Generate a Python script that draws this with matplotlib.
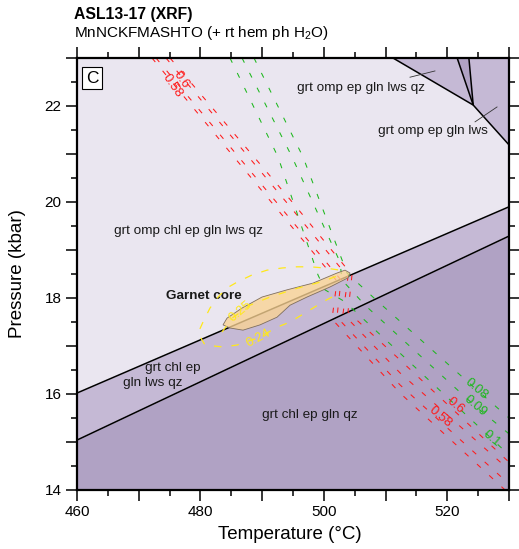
import matplotlib
matplotlib.use("Agg")
import matplotlib.pyplot as plt
from matplotlib.ticker import MultipleLocator, FuncFormatter

plt.rcParams["font.family"] = ["Liberation Sans", "DejaVu Sans"]
plt.rcParams["mathtext.fontset"] = "custom"
plt.rcParams["mathtext.rm"] = "Liberation Sans"

# --- field boundaries (T in degC, P in kbar) ---
BOUND_UPPER_T = [460, 530]
BOUND_UPPER_P = [16.02, 19.90]
BOUND_LOWER_T = [460, 530]
BOUND_LOWER_P = [15.04, 19.29]

REACT_A_T = [511.2, 524.2, 530.0]
REACT_A_P = [23.0, 22.02, 21.19]
REACT_B_T = [521.6, 524.2]
REACT_B_P = [23.0, 22.02]
REACT_C_T = [523.5, 524.2]
REACT_C_P = [23.0, 22.02]

# --- red isopleths (two traces per value) ---
RED_060A_T = [475.07, 495.00, 504.56, 503.91, 512.34, 530.0]
RED_060A_P = [23.0, 19.98, 18.48, 17.71, 16.71, 14.58]
RED_060B_T = [474.42, 494.03, 503.91, 503.10, 512.34, 530.0]
RED_060B_P = [23.0, 19.98, 18.44, 17.67, 16.44, 14.42]
RED_058A_T = [472.80, 492.41, 502.78, 502.13, 512.34, 530.0]
RED_058A_P = [23.0, 19.98, 18.375, 17.60, 16.19, 14.125]
RED_058B_T = [472.15, 491.60, 502.13, 501.32, 512.34, 529.36]
RED_058B_P = [23.0, 19.98, 18.35, 17.56, 16.02, 14.0]

# --- green isopleths ---
GRN_008_T = [488.68, 496.62, 503.75, 508.29, 524.66, 530.0]
GRN_008_P = [23.0, 20.94, 18.52, 17.98, 16.10, 15.50]
GRN_009_T = [486.74, 494.84, 502.62, 502.94, 506.67, 524.50, 530.0]
GRN_009_P = [23.0, 20.94, 18.75, 18.375, 17.85, 15.75, 15.17]
GRN_010_T = [484.79, 492.57, 499.05, 500.19, 503.43, 527.09, 530.0]
GRN_010_P = [23.0, 20.94, 18.48, 18.17, 17.92, 15.08, 14.73]

# --- yellow isopleths ---
YEL_024_T = [501.32, 499.86, 498.24, 496.46, 494.52, 492.57, 489.33, 485.93, 483.66,
             480.74, 479.61, 480.42, 481.55, 482.85, 484.31, 485.93, 488.36, 490.79,
             493.22, 495.65, 497.76, 500.19, 502.62]
YEL_024_P = [18.02, 17.92, 17.79, 17.65, 17.50, 17.40, 17.17, 17.02, 16.98,
             17.02, 17.27, 17.50, 17.79, 18.02, 18.21, 18.33, 18.48, 18.58,
             18.625, 18.65, 18.65, 18.625, 18.58]
YEL_025_T = [483.5, 485.12, 488.03, 491.27, 495.33, 499.38, 503.1]
YEL_025_P = [17.29, 17.58, 17.85, 18.02, 18.19, 18.33, 18.50]

# --- garnet core P-T field ---
CORE_T = [483.66, 484.31, 486.74, 489.98, 494.03, 498.24, 502.13, 503.43, 504.24,
          503.91, 501.0, 497.27, 494.52, 492.41, 489.65, 486.90, 484.79]
CORE_P = [17.44, 17.58, 17.79, 18.02, 18.17, 18.31, 18.52, 18.58, 18.52,
          18.42, 18.23, 18.02, 17.85, 17.60, 17.44, 17.33, 17.375]

FIELD_LIGHT = "#EAE6F0"
FIELD_MID = "#C5B9D5"
FIELD_DARK = "#B0A2C4"
RED = "#FF1A1A"
GREEN = "#1DB81D"
YELLOW = "#FFE81A"

fig = plt.figure(figsize=(5.19, 5.49), dpi=100)
ax = fig.add_axes([77 / 519, 1 - 490 / 549, 432 / 519, 432 / 549])
ax.set_facecolor(FIELD_LIGHT)
ax.set_xlim(460, 530)
ax.set_ylim(14, 23)

# fields
ax.fill_between(BOUND_LOWER_T, 14, BOUND_LOWER_P, color=FIELD_DARK, lw=0)
ax.fill_between(BOUND_UPPER_T, BOUND_LOWER_P, BOUND_UPPER_P, color=FIELD_MID, lw=0)
ax.fill([REACT_A_T[0], REACT_A_T[1], REACT_B_T[0]], [REACT_A_P[0], REACT_A_P[1], REACT_B_P[0]],
        color=FIELD_MID, lw=0)
ax.fill([REACT_B_T[0], REACT_A_T[1], REACT_C_T[0]], [REACT_B_P[0], REACT_A_P[1], REACT_C_P[0]],
        color=FIELD_DARK, lw=0)
ax.fill([REACT_C_T[0], REACT_A_T[1], REACT_A_T[2], 530], [REACT_C_P[0], REACT_A_P[1], REACT_A_P[2], 23],
        color=FIELD_MID, lw=0)

for t, p in [(BOUND_UPPER_T, BOUND_UPPER_P), (BOUND_LOWER_T, BOUND_LOWER_P),
             (REACT_A_T, REACT_A_P), (REACT_B_T, REACT_B_P), (REACT_C_T, REACT_C_P)]:
    ax.plot(t, p, color="black", lw=1.1, solid_capstyle="butt")

# isopleths
dash = (0, (5, 11))
for t, p in [(RED_060A_T, RED_060A_P), (RED_060B_T, RED_060B_P),
             (RED_058A_T, RED_058A_P), (RED_058B_T, RED_058B_P)]:
    ax.plot(t, p, color=RED, lw=0.75, ls=dash)
for t, p in [(GRN_008_T, GRN_008_P), (GRN_009_T, GRN_009_P), (GRN_010_T, GRN_010_P)]:
    ax.plot(t, p, color=GREEN, lw=0.75, ls=dash)

# garnet core field, semi-transparent over the boundary line
ax.fill(CORE_T, CORE_P, facecolor="#FAD393", alpha=0.78, edgecolor="none", zorder=3)
ax.fill(CORE_T, CORE_P, facecolor="none", edgecolor="#7E6E5E", lw=0.6, zorder=3)

for t, p in [(YEL_024_T, YEL_024_P), (YEL_025_T, YEL_025_P)]:
    ax.plot(t, p, color=YELLOW, lw=0.9, ls=(0, (6, 8)), zorder=4)

# isopleth labels
lab = dict(fontsize=9.5, ha="center", va="center", zorder=5)
ax.text(476.85, 22.54, "0.6", color=RED, rotation=-55, **lab)
ax.text(475.39, 22.42, "0.58", color=RED, rotation=-55, **lab)
ax.text(521.25, 15.75, "0.6", color=RED, rotation=-40, **lab)
ax.text(518.82, 15.52, "0.58", color=RED, rotation=-40, **lab)
ax.text(524.66, 16.10, "0.08", color=GREEN, rotation=-40, **lab)
ax.text(524.50, 15.75, "0.09", color=GREEN, rotation=-40, **lab)
ax.text(527.09, 15.08, "0.1", color=GREEN, rotation=-40, **lab)
ax.text(486.41, 17.73, "0.25", color=YELLOW, rotation=40, **lab)
ax.text(489.33, 17.17, "0.24", color=YELLOW, rotation=28, **lab)

# field labels
fl = dict(fontsize=9.7, color="#1a1a1a", ha="left", va="center")
ax.text(495.65, 22.38, "grt omp ep gln lws qz", **fl)
ax.text(508.78, 21.48, "grt omp ep gln lws", **fl)
ax.text(466.0, 19.40, "grt omp chl ep gln lws qz", **fl)
ax.text(474.42, 18.04, "Garnet core", fontweight="bold", **fl)
ax.text(471.0, 16.54, "grt chl ep", **fl)
ax.text(467.45, 16.23, "gln lws qz", **fl)
ax.text(489.98, 15.56, "grt chl ep gln qz", **fl)
ax.plot([513.96, 518.0], [22.60, 22.73], color="#333333", lw=0.6)
ax.plot([524.5, 528.06], [21.67, 21.98], color="#333333", lw=0.6)

ax.text(462.43, 22.58, "C", fontsize=12.5, ha="center", va="center",
        bbox=dict(boxstyle="square,pad=0.22", fc="white", ec="black", lw=0.8))

# axes styling
ax.xaxis.set_major_locator(MultipleLocator(10))
ax.xaxis.set_minor_locator(MultipleLocator(5))
ax.yaxis.set_major_locator(MultipleLocator(1))
ax.yaxis.set_minor_locator(MultipleLocator(0.5))
ax.xaxis.set_major_formatter(FuncFormatter(lambda v, pos: f"{v:.0f}" if round(v) % 20 == 0 else ""))
ax.yaxis.set_major_formatter(FuncFormatter(lambda v, pos: f"{v:.0f}" if round(v) % 2 == 0 else ""))
ax.tick_params(which="both", direction="out", top=True, right=True, width=1.1, labelsize=11)
ax.tick_params(which="major", length=8, pad=3)
ax.tick_params(which="minor", length=4.5)
for s in ax.spines.values():
    s.set_linewidth(1.6)

ax.set_xlabel("Temperature (°C)", fontsize=13.5)
ax.set_ylabel("Pressure (kbar)", fontsize=13.5)
ax.xaxis.set_label_coords(0.493, -0.104)
ax.xaxis.label.set_verticalalignment("center")
ax.yaxis.set_label_coords(-0.137, 0.5)
ax.yaxis.label.set_verticalalignment("center")

fig.text(74 / 519, 1 - 14 / 549, "ASL13-17 (XRF)", fontsize=11.3, fontweight="bold", va="center")
fig.text(74 / 519, 1 - 33 / 549, "MnNCKFMASHTO (+ rt hem ph H$_2$O)", fontsize=11, va="center")

fig.savefig("out.png", dpi=100)
